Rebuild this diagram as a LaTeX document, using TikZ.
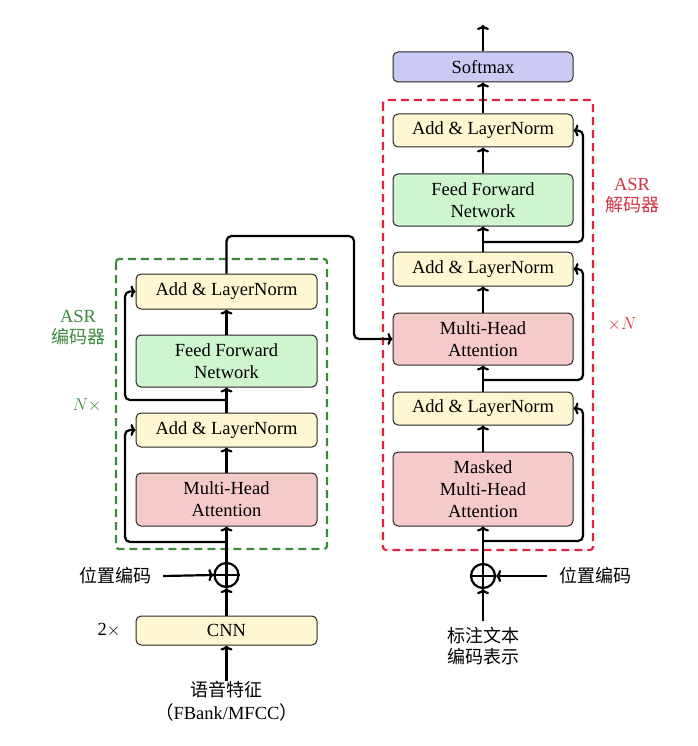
\documentclass[tikz,border=0pt]{standalone}
\usepackage{fontspec}
\setmainfont{Liberation Serif}
\newfontfamily\cjk{Noto Sans CJK SC}
\usetikzlibrary{arrows.meta}
\definecolor{lnfill}{HTML}{FFF6D2}
\definecolor{fffill}{HTML}{CFF5CF}
\definecolor{attfill}{HTML}{F7CACA}
\definecolor{smfill}{HTML}{CACAF5}
\definecolor{encgreen}{HTML}{3A8A3A}
\definecolor{decred}{HTML}{E0243C}
\definecolor{declabel}{HTML}{D03344}
\begin{document}
\begin{tikzpicture}[x=1pt,y=-1pt,
  font=\fontsize{18.5}{22}\selectfont,
  blk/.style={draw=black!85, line width=1pt, rounded corners=5pt,
    minimum width=181pt, align=center, inner sep=0pt},
  an/.style={blk, fill=lnfill},
  ff/.style={blk, fill=fffill},
  att/.style={blk, fill=attfill},
  sm/.style={blk, fill=smfill},
  flow/.style={line width=2.2pt, -{To[length=5pt,width=12pt]}},
  resid/.style={flow, rounded corners=5pt},
  plus/.style={circle, draw, line width=2.2pt, minimum size=24pt, inner sep=0pt},
  zh/.style={font=\cjk\fontsize{18}{21}\selectfont, align=center, inner sep=0pt},
  encframe/.style={draw=encgreen, line width=2.2pt, dash pattern=on 8pt off 5pt, rounded corners=3pt},
  decframe/.style={draw=decred, line width=2.2pt, dash pattern=on 8pt off 5pt, rounded corners=3pt}]
\useasboundingbox (0,0) rectangle (697,746);

% encoder and decoder frames
\draw[encframe] (116,259) rectangle (327,549);
\draw[decframe] (383,100) rectangle (593,550);

% encoder stack
\node[an, minimum height=35pt] (encAN2) at (226.5,291.5) {Add \& LayerNorm};
\node[ff, minimum height=52pt] (encFFN) at (226.5,361) {Feed Forward\\Network};
\node[an, minimum height=34pt] (encAN1) at (226.5,430) {Add \& LayerNorm};
\node[att, minimum height=53pt] (encMHA) at (226.5,499.5) {Multi-Head\\Attention};
\node[plus] (circL) at (226.5,575) {};
\draw[line width=2.2pt] (circL.north) -- (circL.south) (circL.west) -- (circL.east);
\node[an, minimum height=29pt] (cnn) at (226.5,630.5) {CNN};
\node (two) at (109,630) {2$\times$};
\node[zh] (posL) at (115,576) {位置编码};
\node[align=center, inner sep=0pt] (speech) at (226.5,701)
  {{\cjk\fontsize{18}{23}\selectfont 语音特征}\\[1pt]{\cjk （}FBank/MFCC{\cjk ）}};

% decoder stack
\node[sm, minimum height=30pt, minimum width=180pt] (soft) at (483,67) {Softmax};
\node[an, minimum height=33pt, minimum width=180pt] (decAN3) at (483,130.5) {Add \& LayerNorm};
\node[ff, minimum height=52pt, minimum width=180pt] (decFFN) at (483,200) {Feed Forward\\Network};
\node[an, minimum height=34pt, minimum width=180pt] (decAN2) at (483,269) {Add \& LayerNorm};
\node[att, minimum height=52pt, minimum width=180pt] (decMHA) at (483,339) {Multi-Head\\Attention};
\node[an, minimum height=33pt, minimum width=180pt] (decAN1) at (483,408.5) {Add \& LayerNorm};
\node[att, minimum height=74pt, minimum width=180pt] (decMMHA) at (483,489) {Masked\\Multi-Head\\Attention};
\node[plus] (circR) at (483,576) {};
\draw[line width=2.2pt] (circR.north) -- (circR.south) (circR.west) -- (circR.east);
\node[zh] (posR) at (595,576) {位置编码};
\node[zh] (target) at (483,646) {标注文本\\编码表示};

% side labels
\node[align=center, text=encgreen, inner sep=0pt] (encname) at (78,328)
  {ASR\\[-1pt]{\cjk\fontsize{18}{21}\selectfont 编码器}};
\node[text=encgreen, inner sep=0pt] (encrep) at (87,405) {$N\times$};
\node[align=center, text=declabel, inner sep=0pt] (decname) at (632,196)
  {ASR\\[-1pt]{\cjk\fontsize{18}{21}\selectfont 解码器}};
\node[text=declabel, inner sep=0pt] (decrep) at (622,324) {$\times N$};

% rails and branch points
\coordinate (lrail) at (125,0);
\coordinate (rrail) at (583,0);
\coordinate (r1) at (226.5,542);
\coordinate (r2) at (226.5,400);
\coordinate (d1) at (483,541);
\coordinate (d2) at (483,380);
\coordinate (d3) at (483,242);
\coordinate (bridge) at (354,236);
\coordinate (out) at (483,25);

% encoder data flow
\draw[flow] (speech.north) -- (cnn.south);
\draw[flow] (cnn.north) -- (circL.south);
\draw[flow] (posL.east) ++(12,0) -- (circL.west);
\draw[flow] (circL.north) -- (encMHA.south);
\draw[flow] (encMHA.north) -- (encAN1.south);
\draw[flow] (encAN1.north) -- (encFFN.south);
\draw[flow] (encFFN.north) -- (encAN2.south);
\draw[resid] (r1) -| (lrail |- encAN1.west) -- (encAN1.west);
\draw[resid] (r2) -| (lrail |- encAN2.west) -- (encAN2.west);

% encoder output into the cross attention
\draw[resid] (encAN2.north) |- (bridge) |- (decMHA.west);

% decoder data flow
\draw[flow] (target.north) ++(0,-6) -- (circR.south);
\draw[flow] (posR.west) ++(-12,0) -- (circR.east);
\draw[flow] (circR.north) -- (decMMHA.south);
\draw[flow] (decMMHA.north) -- (decAN1.south);
\draw[flow] (decAN1.north) -- (decMHA.south);
\draw[flow] (decMHA.north) -- (decAN2.south);
\draw[flow] (decAN2.north) -- (decFFN.south);
\draw[flow] (decFFN.north) -- (decAN3.south);
\draw[flow] (decAN3.north) -- (soft.south);
\draw[flow] (soft.north) -- (out);
\draw[resid] (d1) -| (rrail |- decAN1.east) -- (decAN1.east);
\draw[resid] (d2) -| (rrail |- decAN2.east) -- (decAN2.east);
\draw[resid] (d3) -| (rrail |- decAN3.east) -- (decAN3.east);
\end{tikzpicture}
\end{document}
